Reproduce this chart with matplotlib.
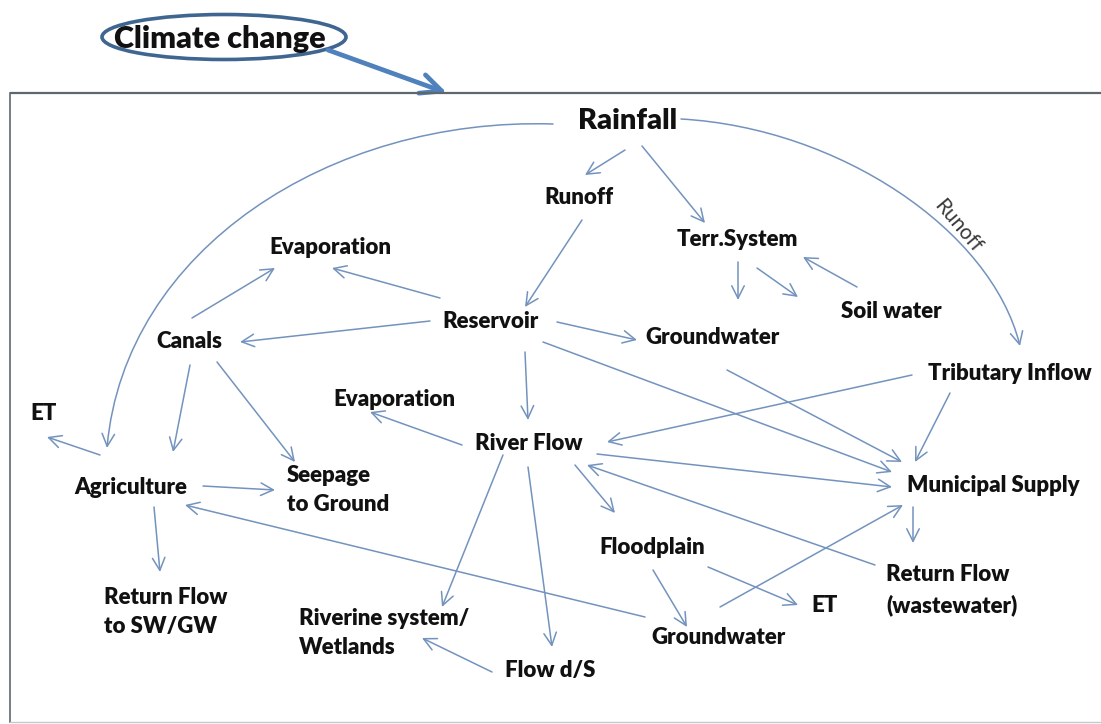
"""
Water-system flow diagram: climate change drives rainfall, which is routed
through reservoirs, canals, rivers and groundwater to the various uses.
"""

import matplotlib
matplotlib.use('Agg')
import matplotlib.pyplot as plt
from matplotlib.patches import Ellipse, FancyArrowPatch
from matplotlib.path import Path

# ---- content -------------------------------------------------------------
# node key -> label text
node_labels = {
    'rainfall': 'Rainfall',
    'runoff': 'Runoff',
    'terr': 'Terr.System',
    'evap_top': 'Evaporation',
    'soil': 'Soil water',
    'reservoir': 'Reservoir',
    'gw_top': 'Groundwater',
    'canals': 'Canals',
    'tributary': 'Tributary Inflow',
    'et_left': 'ET',
    'evap_mid': 'Evaporation',
    'river': 'River Flow',
    'agri': 'Agriculture',
    'seepage': 'Seepage\nto Ground',
    'municipal': 'Municipal Supply',
    'floodplain': 'Floodplain',
    'return_ww': 'Return Flow\n(wastewater)',
    'return_sw': 'Return Flow\nto SW/GW',
    'et_low': 'ET',
    'riverine': 'Riverine system/\nWetlands',
    'gw_low': 'Groundwater',
    'flow_ds': 'Flow d/S',
}

# directed links (source, target)
edges = [
    ('rainfall', 'agri'),
    ('rainfall', 'runoff'),
    ('rainfall', 'terr'),
    ('rainfall', 'tributary'),
    ('runoff', 'reservoir'),
    ('terr', 'gw_top'),
    ('terr', 'soil'),
    ('soil', 'terr'),
    ('reservoir', 'evap_top'),
    ('canals', 'evap_top'),
    ('reservoir', 'canals'),
    ('reservoir', 'gw_top'),
    ('reservoir', 'municipal'),
    ('reservoir', 'river'),
    ('gw_top', 'municipal'),
    ('tributary', 'municipal'),
    ('tributary', 'river'),
    ('river', 'municipal'),
    ('return_ww', 'river'),
    ('river', 'floodplain'),
    ('gw_low', 'municipal'),
    ('municipal', 'return_ww'),
    ('floodplain', 'et_low'),
    ('floodplain', 'gw_low'),
    ('gw_low', 'agri'),
    ('river', 'flow_ds'),
    ('river', 'riverine'),
    ('flow_ds', 'riverine'),
    ('river', 'evap_mid'),
    ('canals', 'agri'),
    ('canals', 'seepage'),
    ('agri', 'et_left'),
    ('agri', 'seepage'),
    ('agri', 'return_sw'),
]

driver_label = 'Climate change'
curve_label = 'Runoff'

# ---- layout (pixel coordinates, y downwards) -----------------------------
W, H = 1101, 724

# (x, y, horizontal alignment)
node_pos = {
    'rainfall': (628, 121, 'center'),
    'runoff': (579, 198, 'center'),
    'terr': (737, 240, 'center'),
    'evap_top': (330, 247, 'center'),
    'soil': (891, 312, 'center'),
    'reservoir': (490, 322, 'center'),
    'gw_top': (712, 338, 'center'),
    'canals': (189, 342, 'center'),
    'tributary': (1010, 374, 'center'),
    'et_left': (44, 413, 'center'),
    'evap_mid': (394, 400, 'center'),
    'river': (529, 443, 'center'),
    'agri': (131, 487, 'center'),
    'seepage': (287, 490, 'left'),
    'municipal': (993, 485, 'center'),
    'floodplain': (652, 547, 'center'),
    'return_ww': (886, 590, 'left'),
    'return_sw': (104, 612, 'left'),
    'et_low': (825, 605, 'center'),
    'riverine': (299, 633, 'left'),
    'gw_low': (719, 638, 'center'),
    'flow_ds': (550, 670, 'center'),
}

# straight links: start and end points
edge_geom = {
    ('rainfall', 'runoff'): ((625, 150), (585, 175)),
    ('rainfall', 'terr'): ((642, 146), (705, 223)),
    ('runoff', 'reservoir'): ((582, 220), (525, 307)),
    ('terr', 'gw_top'): ((738, 262), (738, 300)),
    ('terr', 'soil'): ((757, 268), (798, 297)),
    ('soil', 'terr'): ((857, 287), (803, 257)),
    ('reservoir', 'evap_top'): ((440, 298), (332, 268)),
    ('canals', 'evap_top'): ((192, 318), (275, 268)),
    ('reservoir', 'canals'): ((430, 321), (240, 342)),
    ('reservoir', 'gw_top'): ((557, 322), (637, 340)),
    ('reservoir', 'municipal'): ((543, 342), (892, 472)),
    ('reservoir', 'river'): ((525, 352), (528, 420)),
    ('gw_top', 'municipal'): ((727, 370), (902, 462)),
    ('tributary', 'municipal'): ((950, 393), (915, 462)),
    ('tributary', 'river'): ((912, 375), (607, 442)),
    ('river', 'municipal'): ((597, 454), (892, 487)),
    ('return_ww', 'river'): ((875, 565), (587, 465)),
    ('river', 'floodplain'): ((575, 465), (615, 513)),
    ('gw_low', 'municipal'): ((720, 607), (903, 505)),
    ('municipal', 'return_ww'): ((913, 507), (913, 543)),
    ('floodplain', 'et_low'): ((708, 567), (798, 605)),
    ('floodplain', 'gw_low'): ((653, 570), (687, 627)),
    ('gw_low', 'agri'): ((645, 617), (185, 505)),
    ('river', 'flow_ds'): ((528, 467), (552, 647)),
    ('river', 'riverine'): ((503, 455), (442, 607)),
    ('flow_ds', 'riverine'): ((492, 672), (422, 638)),
    ('river', 'evap_mid'): ((462, 445), (370, 412)),
    ('canals', 'agri'): ((190, 365), (173, 452)),
    ('canals', 'seepage'): ((217, 362), (295, 462)),
    ('agri', 'et_left'): ((100, 455), (47, 437)),
    ('agri', 'seepage'): ((203, 486), (275, 490)),
    ('agri', 'return_sw'): ((154, 507), (160, 572)),
}

# curved links: cubic Bezier control points (start, c1, c2, end)
curve_geom = {
    ('rainfall', 'agri'): [(553, 124), (330, 117), (125, 250), (107, 448)],
    ('rainfall', 'tributary'): [(681, 119), (839, 128), (991, 230), (1020, 346)],
}

arrow_color = '#7393be'
text_color = '#111111'
font = 'Lato'
weight = 'heavy'

fig = plt.figure(figsize=(W / 100, H / 100), dpi=100)
ax = fig.add_axes([0, 0, 1, 1])
ax.set_xlim(0, W)
ax.set_ylim(H, 0)
ax.axis('off')

# outer frame: top and left edges; right edge runs off the picture
ax.plot([10, W + 5], [93, 93], color='#5f676e', linewidth=1.6, solid_capstyle='butt')
ax.plot([10, 10], [93, 722], color='#5f676e', linewidth=1.2)
ax.plot([10, W + 5], [722, 722], color='#c4c8cc', linewidth=1.0)

# climate-change driver
ax.add_patch(Ellipse((224, 37), 244, 45, fill=False,
                     edgecolor='#3f6591', linewidth=2.6))
ax.text(220, 39, driver_label, ha='center', va='center', fontsize=22,
        fontweight=weight, family=font, color=text_color)
ax.add_patch(FancyArrowPatch((328, 50), (447, 93),
                             arrowstyle='->,head_length=15,head_width=7',
                             color='#4f81bd', linewidth=3.4, mutation_scale=1,
                             shrinkA=0, shrinkB=0))

# nodes
for key, label in node_labels.items():
    x, y, ha = node_pos[key]
    size = 21 if key == 'rainfall' else 16
    ax.text(x, y, label, ha=ha, va='center', fontsize=size, fontweight=weight,
            family=font, color=text_color, linespacing=1.5)

head = '->,head_length=9,head_width=4.5'

# links
for src, dst in edges:
    if (src, dst) in curve_geom:
        pts = curve_geom[(src, dst)]
        path = Path(pts, [Path.MOVETO, Path.CURVE4, Path.CURVE4, Path.CURVE4])
        arrow = FancyArrowPatch(path=path, arrowstyle=head, color=arrow_color,
                                linewidth=1.1, mutation_scale=1)
    else:
        start, end = edge_geom[(src, dst)]
        arrow = FancyArrowPatch(start, end, arrowstyle=head, color=arrow_color,
                                linewidth=1.1, mutation_scale=1, shrinkA=0, shrinkB=0)
    ax.add_patch(arrow)

# label along the curved rainfall -> tributary link
ax.text(958, 226, curve_label, rotation=-50, ha='center', va='center',
        fontsize=15, family=font, color='#3a3a3a')

plt.savefig('out.png', dpi=100, facecolor='white')
plt.close()
